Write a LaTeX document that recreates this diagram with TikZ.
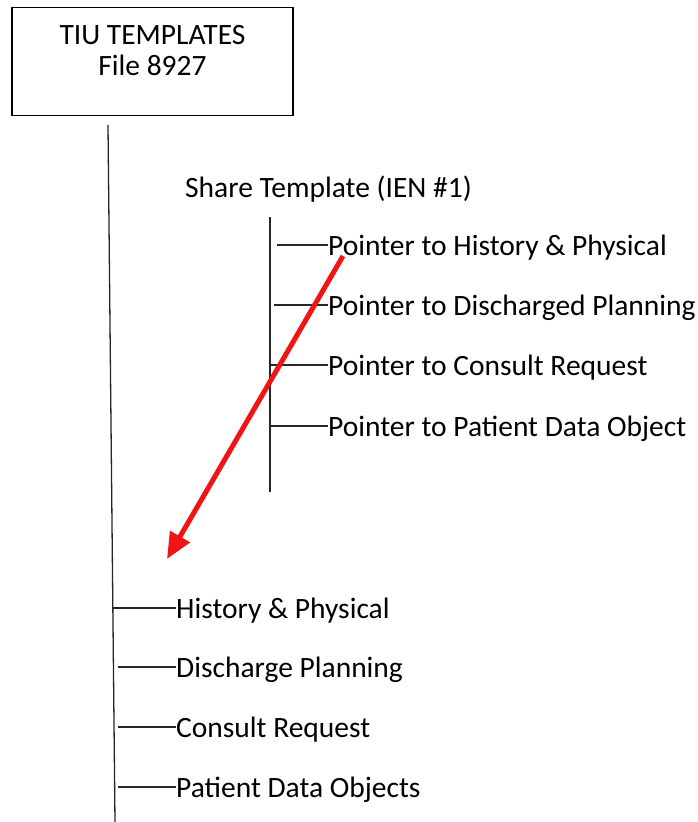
\documentclass[tikz,border=0pt]{standalone}
\usepackage{fontspec}
\setmainfont{Carlito}
\usepackage{tikz}
\usetikzlibrary{positioning,calc}
\usetikzlibrary{arrows.meta}
\definecolor{rosso}{RGB}{240,20,20}
\tikzstyle{archivio} = [rectangle, minimum width=281pt, minimum height=108pt, align=center, text height=40pt, text depth=13pt, draw=black, line width=1.6pt, font=\fontsize{29.5}{31}\selectfont]
\tikzstyle{voce} = [anchor=west, inner sep=0pt, text height=20pt, text depth=0pt]
\tikzstyle{ramo} = [line width=1.3pt, black!85]
\tikzstyle{freccia} = [line width=5pt, rosso, -{Triangle[length=26pt,width=22pt]}]

\begin{document}
\begin{tikzpicture}[x=1pt, y=-1pt, font=\fontsize{29.5}{36}\selectfont]
				\useasboundingbox (0,0) rectangle (698,822);
				\node (tiu) at (152.5,61.5) [archivio] {TIU TEMPLATES\\File 8927};
				\node (share) at (185,187) [voce] {Share Template (IEN \#1)};
				\node (p1) at (328,245) [voce] {Pointer to History \& Physical};
				\node (p2) at (328,305) [voce] {Pointer to Discharged Planning};
				\node (p3) at (328,365) [voce] {Pointer to Consult Request};
				\node (p4) at (328,426) [voce] {Pointer to Patient Data Object};
				\node (hp) at (176,608) [voce] {History \& Physical};
				\node (dp) at (176,667) [voce] {Discharge Planning};
				\node (cr) at (176,727) [voce] {Consult Request};
				\node (pd) at (176,787) [voce] {Patient Data Objects};
				\coordinate (asse0) at (108,125);
				\coordinate (asse1) at (115,822);
				\coordinate (sub0) at (270,217);
				\coordinate (sub1) at (270,492);
				\draw[ramo] (asse0) -- (asse1);
				\draw[ramo] (sub0) -- (sub1);
				\draw[ramo] (277,245) -- (p1.west);
				\draw[ramo] (274,305) -- (p2.west);
				\draw[ramo] (270,365) -- (p3.west);
				\draw[ramo] (270,426) -- (p4.west);
				\draw[ramo] (112.5,608) -- (hp.west);
				\draw[ramo] (118,667) -- (dp.west);
				\draw[ramo] (118,727) -- (cr.west);
				\draw[ramo] (118,787) -- (pd.west);
				\coordinate (da) at (343,256);
				\coordinate (a) at (167,559);
				\draw[freccia] (da) -- (a);
				\end{tikzpicture}
\end{document}
